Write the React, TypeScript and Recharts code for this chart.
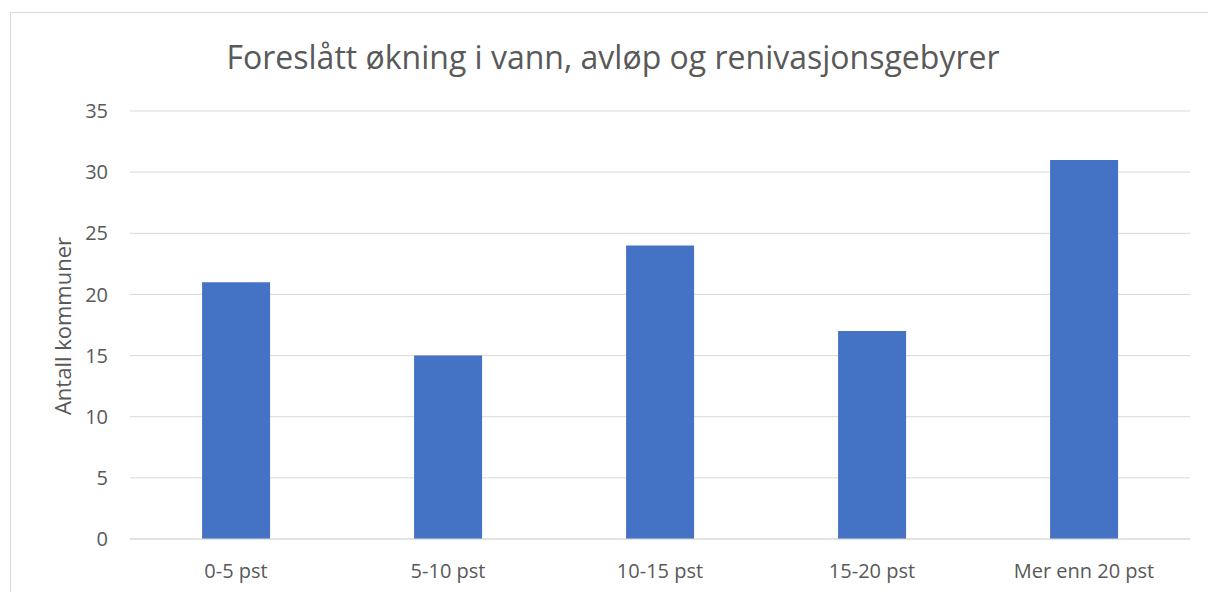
import React from "react"
import { BarChart, Bar, XAxis, YAxis, CartesianGrid } from "recharts"

const categories = ["0-5 pst", "5-10 pst", "10-15 pst", "15-20 pst", "Mer enn 20 pst"]
const counts = [21, 15, 24, 17, 31]
const yTicks = [0, 5, 10, 15, 20, 25, 30, 35]

const data = categories.map((name, i) => ({ name, value: counts[i] }))

const FONT = "'Open Sans', sans-serif"
const TEXT = "#595959"

export default function App() {
  return (
    <div
      style={{
        position: "absolute",
        left: 0,
        top: 0,
        width: 1208,
        height: 592,
        overflow: "hidden",
        background: "#fff",
        fontFamily: FONT,
      }}
    >
      <div
        style={{
          position: "absolute",
          left: 10,
          top: 12,
          width: 1240,
          height: 640,
          border: "1px solid #d9d9d9",
        }}
      />

      {/* title */}
      <div
        style={{
          position: "absolute",
          left: 0,
          width: 1226,
          top: 35,
          textAlign: "center",
          fontSize: 32,
          color: TEXT,
          whiteSpace: "nowrap",
        }}
      >
        Foreslått økning i vann, avløp og renivasjonsgebyrer
      </div>

      {/* y axis label */}
      <div
        style={{
          position: "absolute",
          left: 62,
          top: 326,
          transform: "translate(-50%, -50%) rotate(-90deg)",
          fontSize: 22,
          color: TEXT,
          whiteSpace: "nowrap",
        }}
      >
        Antall kommuner
      </div>

      <div style={{ position: "absolute", left: 11, top: 13 }}>
        <BarChart
          width={1198}
          height={578}
          data={data}
          margin={{ top: 98, right: 19, left: 0, bottom: 0 }}
          barCategoryGap="34%"
        >
          <CartesianGrid vertical={false} stroke="#d9d9d9" strokeWidth={1} />
          <XAxis
            dataKey="name"
            axisLine={{ stroke: "#d9d9d9" }}
            tickLine={false}
            tickSize={0}
            tickMargin={25}
            height={52}
            interval={0}
            tick={{ fill: TEXT, fontSize: 20, fontFamily: FONT }}
          />
          <YAxis
            domain={[0, 35]}
            ticks={yTicks}
            width={119}
            axisLine={false}
            tickLine={false}
            tickSize={0}
            tickMargin={22}
            interval={0}
            tick={{ fill: TEXT, fontSize: 20, fontFamily: FONT }}
          />
          <Bar dataKey="value" fill="#4472c4" isAnimationActive={false} />
        </BarChart>
      </div>
    </div>
  )
}
